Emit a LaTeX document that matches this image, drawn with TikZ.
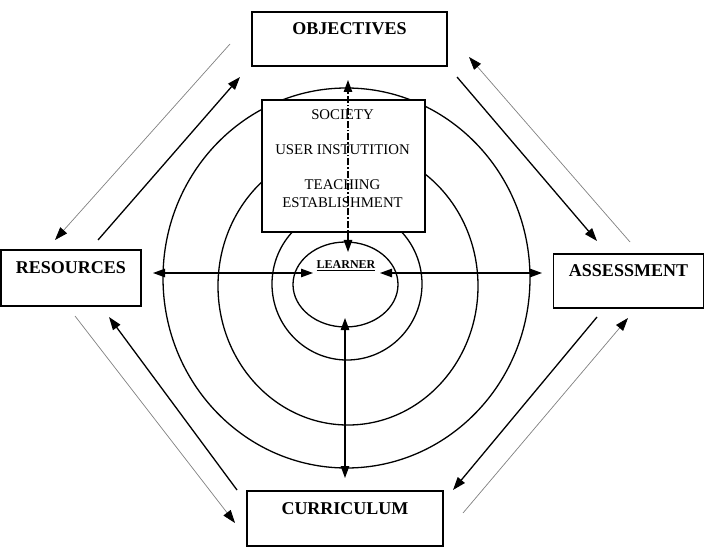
\documentclass[tikz,border=0pt]{standalone}
\usepackage{fontspec}
\setmainfont{Liberation Serif}
\usetikzlibrary{arrows.meta}
\begin{document}
\begin{tikzpicture}[x=1bp,y=-1bp,
  outerbox/.style={draw, line width=1.2bp, inner sep=0pt, font=\fontsize{18bp}{21bp}\selectfont\bfseries, text height=12bp, text depth=20bp},
  ring/.style={line width=1.3bp},
  tip/.style={-{Triangle[length=13bp,width=9bp]}},
  bothtips/.style={{Triangle[length=12bp,width=8.5bp]}-{Triangle[length=12bp,width=8.5bp]}},
  mainarrow/.style={line width=1.3bp, tip},
  thinarrow/.style={line width=0.7bp, draw=black!50, -{Triangle[length=13bp,width=9bp,color=black]}},
  axis/.style={line width=1.1bp, bothtips},
]
\useasboundingbox (0,0) rectangle (707,547);

% rings
\draw[ring] (345.5,284.5) ellipse [x radius=52.5bp, y radius=42.5bp];
\draw[ring] (347,284) ellipse [x radius=75bp, y radius=76bp];
\draw[ring] (348,286) ellipse [x radius=130bp, y radius=139bp];
\draw[ring] (346.5,278) ellipse [x radius=183.5bp, y radius=190bp];

% outer boxes
\node[outerbox, minimum width=195bp, minimum height=54bp] (obj) at (349.5,39) {OBJECTIVES};
\node[outerbox, minimum width=140bp, minimum height=56bp] (res) at (71,278) {RESOURCES};
\node[outerbox, minimum width=150bp, minimum height=54bp] (ass) at (628.5,281) {ASSESSMENT};
\node[outerbox, minimum width=196bp, minimum height=55bp] (cur) at (345,518.5) {CURRICULUM};

% inner box
\node[draw, fill=white, line width=1.2bp, minimum width=163bp, minimum height=132bp, inner sep=0pt] (soc) at (343.5,166) {};
\node[font=\fontsize{14.8bp}{18bp}\selectfont, align=center, anchor=north, inner sep=0pt] (soctext) at (342.5,110) {SOCIETY\\[17bp]USER INSTUTITION\\[17bp]TEACHING\\ESTABLISHMENT};

\node[font=\fontsize{12bp}{14bp}\selectfont\bfseries, inner sep=0pt] (lrn) at (346,266) {\underline{LEARNER}};

% axes
\coordinate (vt) at (348,80);
\coordinate (vb) at (348,252);
\draw[axis, dash pattern=on 7bp off 2bp on 1.5bp off 2bp] (vb) -- (vt);
\coordinate (hl1) at (153,273);
\coordinate (hl2) at (313,273);
\coordinate (hr1) at (380,273);
\coordinate (hr2) at (542,273);
\draw[axis] (hl1) -- (hl2);
\draw[axis] (hr1) -- (hr2);
\coordinate (vbt) at (345,318);
\coordinate (vbb) at (345,478);
\draw[axis] (vbt) -- (vbb);

% diagonals
\coordinate (tl1) at (230,44);  \coordinate (tl2) at (55,240);
\coordinate (tl3) at (98,240);  \coordinate (tl4) at (240,77);
\draw[thinarrow] (tl1) -- (tl2);
\draw[mainarrow] (tl3) -- (tl4);

\coordinate (tr1) at (457,77);  \coordinate (tr2) at (597,241);
\coordinate (tr3) at (630,242); \coordinate (tr4) at (469,57);
\draw[mainarrow] (tr1) -- (tr2);
\draw[thinarrow] (tr3) -- (tr4);

\coordinate (bl1) at (75,316);  \coordinate (bl2) at (235,523);
\coordinate (bl3) at (237,490); \coordinate (bl4) at (109,317);
\draw[thinarrow] (bl1) -- (bl2);
\draw[mainarrow] (bl3) -- (bl4);

\coordinate (br1) at (597,317); \coordinate (br2) at (453,490);
\coordinate (br3) at (463,513); \coordinate (br4) at (628,318);
\draw[mainarrow] (br1) -- (br2);
\draw[thinarrow] (br3) -- (br4);
\end{tikzpicture}
\end{document}
